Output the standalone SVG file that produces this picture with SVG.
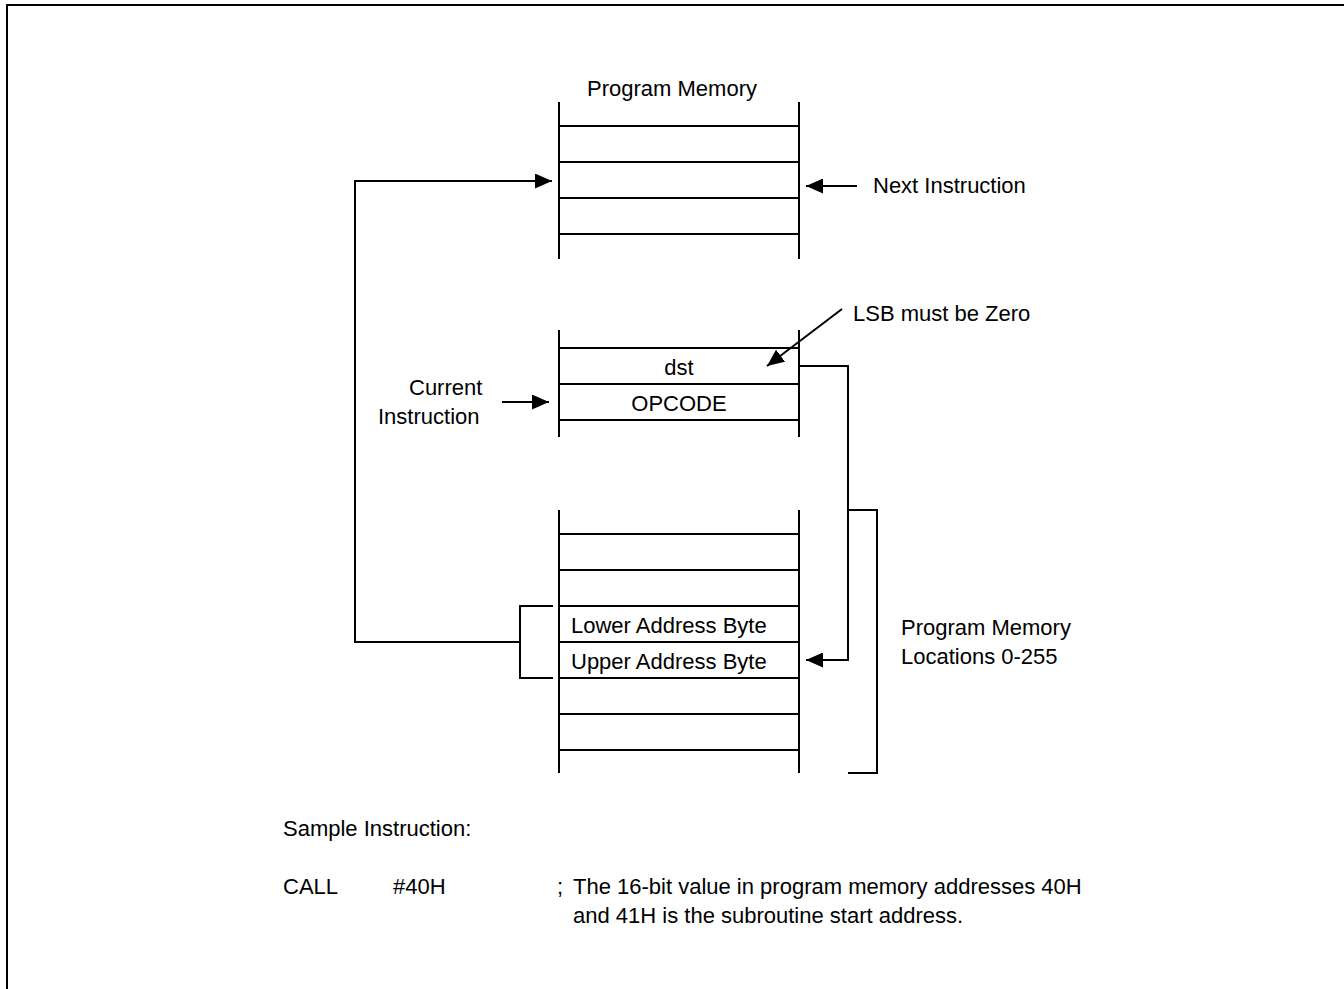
<svg xmlns="http://www.w3.org/2000/svg" width="1344" height="989" viewBox="0 0 1344 989">
<style>
.ln{stroke:#000;stroke-width:2;fill:none}
.t{font-family:"Liberation Sans",Arial,sans-serif;font-size:22px;fill:#000}
.c{text-anchor:middle}
</style>
<defs>
<marker id="ah" markerUnits="userSpaceOnUse" viewBox="0 0 17 15" refX="17" refY="7.5" markerWidth="17" markerHeight="15" orient="auto">
<path d="M0,0 L17,7.5 L0,15 Z" fill="#000"/>
</marker>
</defs>
<rect x="0" y="0" width="1344" height="989" fill="#fff"/>
<rect id="frame" x="7" y="5" width="1400" height="1100" class="ln"/>

<g id="mem-top">
<text class="t c" x="672" y="96">Program Memory</text>
<path class="ln" d="M559,102 V259 M799,102 V259 M559,126 H799 M559,162 H799 M559,198 H799 M559,234 H799"/>
</g>

<g id="next-label">
<text class="t" x="873" y="193">Next Instruction</text>
</g>

<g id="mem-mid">
<path class="ln" d="M559,330 V437 M799,330 V437 M559,348 H799 M559,384 H799 M559,420 H799"/>
<text class="t c" x="679" y="375">dst</text>
<text class="t c" x="679" y="411">OPCODE</text>
</g>

<g id="lsb-label">
<text class="t" x="853" y="321">LSB must be Zero</text>
</g>

<g id="current-label">
<text class="t" x="409" y="395">Current</text>
<text class="t" x="378" y="424">Instruction</text>
</g>

<g id="mem-bottom">
<path class="ln" d="M559,510 V773 M799,510 V773 M559,534 H799 M559,570 H799 M559,606 H799 M559,642 H799 M559,678 H799 M559,714 H799 M559,750 H799"/>
<text class="t" x="571" y="633">Lower Address Byte</text>
<text class="t" x="571" y="669">Upper Address Byte</text>
</g>

<g id="range-label">
<text class="t" x="901" y="635">Program Memory</text>
<text class="t" x="901" y="664">Locations 0-255</text>
</g>

<g id="connectors">
<path class="ln" d="M520,642 H355 V181 H552" marker-end="url(#ah)"/>
<path class="ln" d="M553,606 H520 V678 H553"/>
<path class="ln" d="M857,186 H806" marker-end="url(#ah)"/>
<path class="ln" d="M502,402 H549" marker-end="url(#ah)"/>
<path class="ln" d="M799,366 H848 V660 H806" marker-end="url(#ah)"/>
<path class="ln" d="M848,510 H877 V773 H848"/>
<path class="ln" d="M842,309 L767,366" marker-end="url(#ah)"/>
</g>

<g id="sample">
<text class="t" x="283" y="836">Sample Instruction:</text>
<text class="t" x="283" y="894">CALL</text>
<text class="t" x="393" y="894">#40H</text>
<text class="t" x="557" y="894">;</text>
<text class="t" x="573" y="894">The 16-bit value in program memory addresses 40H</text>
<text class="t" x="573" y="923">and 41H is the subroutine start address.</text>
</g>
</svg>
